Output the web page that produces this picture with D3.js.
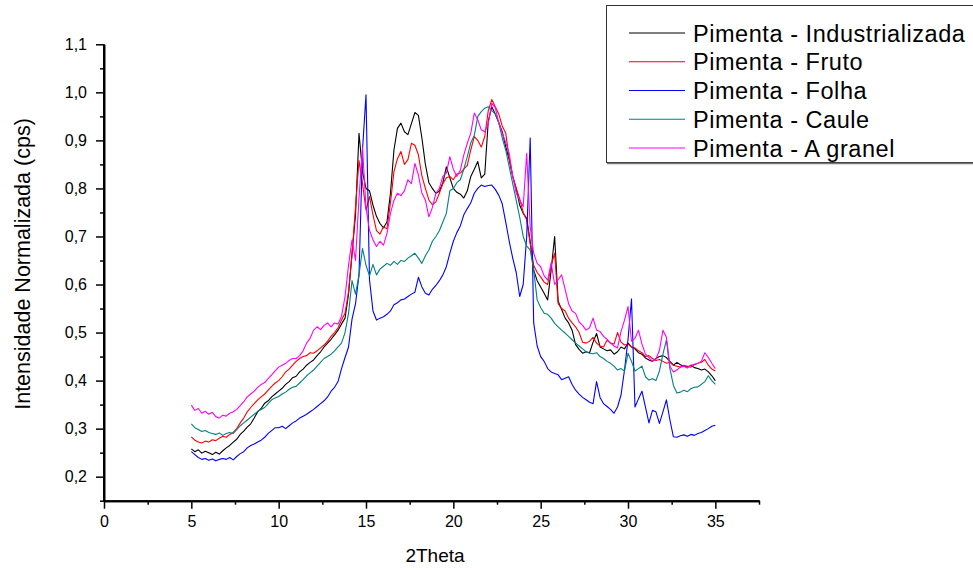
<!DOCTYPE html>
<html><head><meta charset="utf-8">
<script src="https://cdn.jsdelivr.net/npm/d3@7"></script>
<style>body{margin:0;background:#fff}</style>
</head><body><svg id="c" width="973" height="570"></svg>
<script>
// ---- data ----
const thetaStart = 5, thetaStep = 0.2, nPoints = 151;
const theta = d3.range(nPoints).map(i => +(thetaStart + thetaStep * i).toFixed(1));

const seriesNames = ["Pimenta - Industrializada","Pimenta - Fruto","Pimenta - Folha","Pimenta - Caule","Pimenta - A granel"];
const seriesColors = ["#000000","#ff0000","#0000ff","#008080","#ff00ff"];

const industrializada = [
0.258,0.252,0.256,0.249,0.253, 0.250,0.246,0.251,0.247,0.254, 0.260,0.265,0.272,0.278,0.288,
0.295,0.303,0.310,0.322,0.335, 0.342,0.353,0.358,0.366,0.372, 0.378,0.384,0.392,0.398,0.406,
0.409,0.418,0.424,0.432,0.438, 0.443,0.452,0.460,0.470,0.478, 0.486,0.495,0.505,0.518,0.530,
0.580,0.665,0.745,0.915,0.835, 0.800,0.795,0.765,0.742,0.727, 0.718,0.730,0.790,0.880,0.925,
0.936,0.918,0.912,0.935,0.958, 0.952,0.905,0.850,0.812,0.800, 0.790,0.794,0.812,0.845,0.822,
0.800,0.792,0.788,0.780,0.795, 0.825,0.840,0.856,0.822,0.830, 0.940,0.970,0.955,0.937,0.918,
0.887,0.860,0.825,0.800,0.765, 0.748,0.738,0.690,0.630,0.608, 0.595,0.582,0.568,0.630,0.700,
0.565,0.548,0.530,0.520,0.505, 0.475,0.465,0.457,0.460,0.458, 0.480,0.498,0.470,0.466,0.462,
0.464,0.455,0.460,0.470,0.466, 0.478,0.470,0.466,0.458,0.455, 0.447,0.443,0.440,0.446,0.450,
0.452,0.448,0.440,0.432,0.438, 0.433,0.430,0.428,0.432,0.427, 0.425,0.422,0.424,0.418,0.410,
0.400];

const fruto = [
0.283,0.276,0.272,0.270,0.274, 0.272,0.277,0.275,0.280,0.284, 0.282,0.288,0.292,0.300,0.312,
0.322,0.335,0.344,0.352,0.360, 0.366,0.372,0.380,0.388,0.395, 0.400,0.408,0.418,0.424,0.432,
0.440,0.446,0.450,0.452,0.458, 0.457,0.462,0.468,0.474,0.482, 0.492,0.500,0.510,0.526,0.540,
0.585,0.662,0.762,0.858,0.810, 0.755,0.783,0.745,0.712,0.705, 0.720,0.716,0.770,0.835,0.862,
0.877,0.850,0.860,0.894,0.890, 0.870,0.826,0.800,0.776,0.766, 0.772,0.790,0.810,0.822,0.825,
0.818,0.830,0.832,0.840,0.848, 0.880,0.908,0.900,0.886,0.908, 0.962,0.985,0.970,0.955,0.930,
0.915,0.862,0.825,0.800,0.778, 0.750,0.734,0.685,0.640,0.625, 0.616,0.605,0.600,0.640,0.665,
0.560,0.550,0.545,0.530,0.520, 0.512,0.500,0.480,0.478,0.482, 0.490,0.478,0.472,0.470,0.484,
0.478,0.476,0.500,0.480,0.474, 0.476,0.470,0.468,0.462,0.458, 0.450,0.452,0.446,0.442,0.444,
0.440,0.436,0.438,0.432,0.430, 0.428,0.432,0.430,0.428,0.433, 0.436,0.438,0.444,0.432,0.424,
0.420];

const folha = [
0.252,0.246,0.240,0.236,0.238, 0.234,0.237,0.233,0.236,0.238, 0.236,0.240,0.235,0.242,0.248,
0.252,0.260,0.265,0.268,0.272, 0.276,0.282,0.290,0.296,0.302, 0.302,0.305,0.300,0.306,0.312,
0.316,0.322,0.326,0.330,0.335, 0.340,0.346,0.352,0.358,0.366, 0.378,0.386,0.398,0.425,0.448,
0.470,0.528,0.560,0.620,0.880, 0.995,0.610,0.545,0.526,0.530, 0.533,0.538,0.545,0.558,0.562,
0.568,0.570,0.575,0.580,0.584, 0.615,0.595,0.582,0.578,0.590, 0.598,0.608,0.620,0.637,0.665,
0.690,0.708,0.722,0.745,0.758, 0.770,0.790,0.800,0.807,0.804, 0.806,0.807,0.798,0.786,0.768,
0.730,0.690,0.655,0.625,0.575, 0.600,0.700,0.905,0.520,0.472, 0.450,0.440,0.425,0.418,0.415,
0.412,0.402,0.405,0.408,0.392, 0.380,0.372,0.365,0.360,0.355, 0.352,0.398,0.365,0.352,0.346,
0.340,0.332,0.345,0.370,0.422, 0.485,0.570,0.345,0.362,0.378, 0.345,0.312,0.338,0.335,0.311,
0.335,0.360,0.318,0.283,0.282, 0.285,0.287,0.284,0.288,0.286, 0.290,0.292,0.296,0.300,0.305,
0.307];

const caule = [
0.310,0.302,0.298,0.294,0.296, 0.292,0.290,0.288,0.291,0.286, 0.290,0.292,0.290,0.298,0.306,
0.312,0.318,0.324,0.330,0.336, 0.340,0.344,0.352,0.360,0.364, 0.367,0.372,0.376,0.382,0.386,
0.388,0.395,0.402,0.410,0.416, 0.422,0.430,0.438,0.446,0.450, 0.455,0.462,0.470,0.478,0.500,
0.540,0.608,0.580,0.620,0.675, 0.640,0.618,0.642,0.620,0.632, 0.638,0.644,0.640,0.648,0.642,
0.650,0.648,0.655,0.660,0.665, 0.655,0.644,0.660,0.672,0.690, 0.700,0.712,0.730,0.748,0.795,
0.800,0.812,0.818,0.840,0.866, 0.895,0.910,0.950,0.960,0.967, 0.970,0.962,0.955,0.937,0.905,
0.880,0.845,0.810,0.775,0.740, 0.700,0.680,0.672,0.630,0.568, 0.552,0.540,0.538,0.530,0.519,
0.512,0.505,0.499,0.492,0.485, 0.478,0.472,0.466,0.460,0.457, 0.456,0.458,0.450,0.446,0.440,
0.436,0.430,0.422,0.425,0.420, 0.457,0.440,0.420,0.425,0.430, 0.408,0.401,0.404,0.400,0.420,
0.455,0.485,0.425,0.390,0.374, 0.376,0.380,0.377,0.383,0.386, 0.387,0.392,0.398,0.410,0.400,
0.392];

const aGranel = [
0.349,0.338,0.342,0.332,0.336, 0.330,0.334,0.325,0.322,0.328, 0.326,0.332,0.335,0.340,0.348,
0.356,0.366,0.372,0.378,0.386, 0.392,0.396,0.404,0.412,0.420, 0.428,0.432,0.436,0.442,0.446,
0.446,0.452,0.462,0.478,0.488, 0.505,0.512,0.506,0.515,0.520, 0.512,0.520,0.518,0.534,0.575,
0.640,0.693,0.650,0.780,0.885, 0.760,0.713,0.693,0.679,0.690, 0.682,0.706,0.748,0.775,0.790,
0.785,0.795,0.818,0.810,0.852, 0.828,0.790,0.776,0.741,0.760, 0.790,0.800,0.825,0.832,0.866,
0.840,0.825,0.838,0.870,0.894, 0.915,0.957,0.943,0.922,0.918, 0.935,0.977,0.968,0.937,0.915,
0.895,0.873,0.825,0.790,0.776, 0.762,0.873,0.720,0.665,0.644, 0.637,0.618,0.609,0.645,0.600,
0.610,0.620,0.590,0.560,0.545, 0.540,0.522,0.515,0.505,0.510, 0.530,0.505,0.502,0.492,0.486,
0.478,0.472,0.468,0.502,0.526, 0.554,0.482,0.488,0.505,0.476, 0.455,0.448,0.440,0.445,0.463,
0.505,0.490,0.430,0.418,0.422, 0.428,0.430,0.426,0.432,0.434, 0.436,0.440,0.458,0.448,0.436,
0.425];

const seriesValues = [industrializada, fruto, folha, caule, aGranel];

const xMajorTicks = [0,5,10,15,20,25,30,35];
const xMinorTicks = [2.5,7.5,12.5,17.5,22.5,27.5,32.5,37.5];
const yMajorTicks = [0.2,0.3,0.4,0.5,0.6,0.7,0.8,0.9,1.0,1.1];
const yMinorTicks = [0.15,0.25,0.35,0.45,0.55,0.65,0.75,0.85,0.95,1.05];
const xTitle = "2Theta";
const yTitle = "Intensidade Normalizada (cps)";

// ---- drawing ----
const FONT = "'Liberation Sans', Arial, Helvetica, sans-serif";
const svg = d3.select("#c");
const x = d3.scaleLinear().domain([0, 37.5]).range([104, 759]);
const y = d3.scaleLinear().domain([0.15, 1.1]).range([500.7, 44.3]);

const line = d3.line().x((d, i) => x(theta[i])).y(d => y(d));
const plot = svg.append("g");
seriesValues.forEach((vals, k) => {
  plot.append("path").datum(vals)
    .attr("fill", "none").attr("stroke", seriesColors[k])
    .attr("stroke-width", 1.1).attr("stroke-linejoin", "round")
    .attr("d", line);
});

function styleAxis(g) {
  g.selectAll("path.domain").attr("stroke", "#000").attr("stroke-width", 2);
  g.selectAll(".tick line").attr("stroke", "#000").attr("stroke-width", 1.5);
  g.selectAll(".tick text").attr("fill", "#000").style("font-family", FONT).style("font-size", "16px");
}

const fmt = d => d3.format(".1f")(d).replace(".", ",");
const gxMinor = svg.append("g").attr("transform", "translate(0,500.7)")
  .call(d3.axisBottom(x).tickValues(xMinorTicks).tickSize(4).tickSizeOuter(0).tickFormat(""));
styleAxis(gxMinor);
const gx = svg.append("g").attr("transform", "translate(0,500.7)")
  .call(d3.axisBottom(x).tickValues(xMajorTicks).tickSize(8).tickSizeOuter(0).tickPadding(7).tickFormat(d3.format("d")));
styleAxis(gx);

const gyMinor = svg.append("g").attr("transform", "translate(104,0)")
  .call(d3.axisLeft(y).tickValues(yMinorTicks).tickSize(4).tickSizeOuter(0).tickFormat(""));
styleAxis(gyMinor);
const gy = svg.append("g").attr("transform", "translate(104,0)")
  .call(d3.axisLeft(y).tickValues(yMajorTicks).tickSize(8).tickSizeOuter(0).tickPadding(9).tickFormat(fmt));
styleAxis(gy);
gy.select("path.domain").attr("d", "M0," + y(0.15) + "V" + y(1.1));

svg.append("text").attr("x", 435).attr("y", 562).attr("text-anchor", "middle")
  .style("font-family", FONT).style("font-size", "19px").text(xTitle);
svg.append("text").attr("transform", "translate(30,264) rotate(-90)").attr("text-anchor", "middle")
  .style("font-family", FONT).style("font-size", "21.5px").text(yTitle);

// legend
const lg = svg.append("g");
lg.append("rect").attr("x", 606.5).attr("y", 5.5).attr("width", 420).attr("height", 157)
  .attr("fill", "#fff").attr("stroke", "#333").attr("stroke-width", 1);
lg.append("line").attr("x1", 607).attr("x2", 1000).attr("y1", 163.5).attr("y2", 163.5)
  .attr("stroke", "#777").attr("stroke-width", 1.5);
seriesNames.forEach((name, k) => {
  const cy = 33 + k * 28.75;
  lg.append("line").attr("x1", 629).attr("x2", 685).attr("y1", cy).attr("y2", cy)
    .attr("stroke", seriesColors[k]).attr("stroke-width", 1.1);
  lg.append("text").attr("x", 693).attr("y", cy + 8.5)
    .style("font-family", FONT).style("font-size", "23.5px").style("letter-spacing", "0.55px")
    .attr("fill", "#000").text(name);
});
</script></body></html>
